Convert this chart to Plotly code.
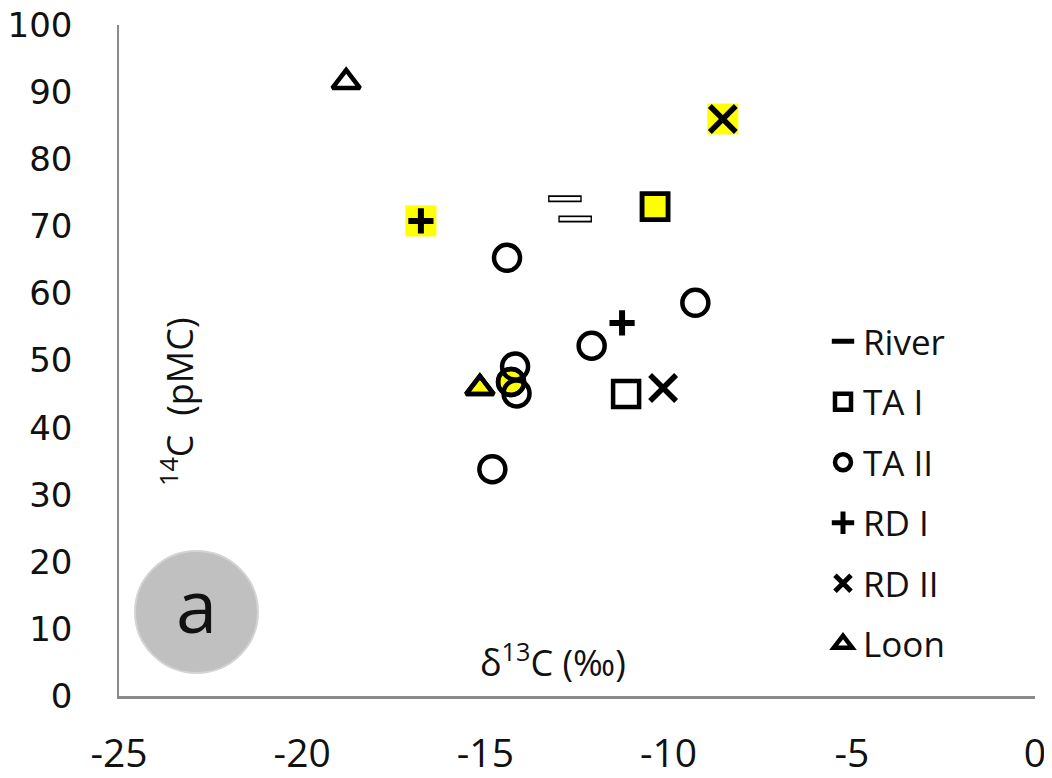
import plotly.graph_objects as go

# ---- data ----
river_x = [-12.83, -12.55]
river_y = [74.1, 71.1]

ta1_x = [-10.37, -11.16]
ta1_y = [72.9, 45.0]
ta1_hl = [True, False]

ta2_x = [-14.41, -9.27, -12.10, -14.19, -14.30, -14.15, -14.81]
ta2_y = [65.3, 58.6, 52.2, 49.1, 46.8, 45.1, 33.8]
ta2_hl = [False, False, False, False, True, False, False]

rd1_x = [-16.76, -11.27]
rd1_y = [70.8, 55.6]
rd1_hl = [True, False]

rd2_x = [-8.52, -10.15]
rd2_y = [86.0, 45.9]
rd2_hl = [True, False]

loon_x = [-18.8, -15.15]
loon_y = [91.5, 45.9]
loon_hl = [False, True]

x_ticks = [-25, -20, -15, -10, -5, 0]
y_ticks = [0, 10, 20, 30, 40, 50, 60, 70, 80, 90, 100]

YEL = "#ffff00"
BLK = "#000000"


def pick(xs, ys, flags):
    px = [x for x, f in zip(xs, flags) if f]
    py = [y for y, f in zip(ys, flags) if f]
    return px, py


fig = go.Figure()

# yellow highlights drawn first (underneath the black symbols)
for xs, ys, fl in [(rd1_x, rd1_y, rd1_hl), (rd2_x, rd2_y, rd2_hl)]:
    hx, hy = pick(xs, ys, fl)
    fig.add_trace(go.Scatter(x=hx, y=hy, mode="markers", showlegend=False, hoverinfo="skip",
                             marker=dict(symbol="square", size=31, color=YEL, line=dict(width=0))))
for xs, ys, fl, sym, sz in [(ta1_x, ta1_y, ta1_hl, "square", 26),
                            (ta2_x, ta2_y, ta2_hl, "circle", 26),
                            (loon_x, loon_y, loon_hl, "triangle-up", 24)]:
    hx, hy = pick(xs, ys, fl)
    fig.add_trace(go.Scatter(x=hx, y=hy, mode="markers", showlegend=False, hoverinfo="skip",
                             marker=dict(symbol=sym, size=sz, color=YEL, line=dict(width=4.5, color=BLK))))

# River: hollow dash
fig.add_trace(go.Scatter(x=river_x, y=river_y, mode="markers", name="River", legendgroup="river",
                         marker=dict(symbol="line-ew", size=24, color=BLK, line=dict(width=7, color=BLK))))
fig.add_trace(go.Scatter(x=river_x, y=river_y, mode="markers", showlegend=False, hoverinfo="skip",
                         legendgroup="river",
                         marker=dict(symbol="line-ew", size=22, color="white", line=dict(width=3.5, color="white"))))

# TA I
fig.add_trace(go.Scatter(x=ta1_x, y=ta1_y, mode="markers", name="TA I", legendgroup="ta1",
                         marker=dict(symbol="square-open", size=26, color=BLK, line=dict(width=4.5, color=BLK))))
# TA II
fig.add_trace(go.Scatter(x=ta2_x, y=ta2_y, mode="markers", name="TA II", legendgroup="ta2",
                         marker=dict(symbol="circle-open", size=26, color=BLK, line=dict(width=4.5, color=BLK))))
# RD I
fig.add_trace(go.Scatter(x=rd1_x, y=rd1_y, mode="markers", name="RD I", legendgroup="rd1",
                         marker=dict(symbol="cross-thin-open", size=18, color=BLK, line=dict(width=6, color=BLK))))
# RD II
fig.add_trace(go.Scatter(x=rd2_x, y=rd2_y, mode="markers", name="RD II", legendgroup="rd2",
                         marker=dict(symbol="x-thin-open", size=26, color=BLK, line=dict(width=5.5, color=BLK))))
# Loon
fig.add_trace(go.Scatter(x=loon_x, y=loon_y, mode="markers", name="Loon", legendgroup="loon",
                         marker=dict(symbol="triangle-up-open", size=24, color=BLK, line=dict(width=4.5, color=BLK))))

# page has an 8px body margin, so the figure is sized/offset to compensate
OFF = 8
W, H = 1044, 770
PL, PR, PT, PB = 119, 1035, 25, 696          # plot area in screen pixels
L, T = PL - OFF, PT - OFF
R, B = W - (PR - OFF), H - (PB - OFF)
pw, ph = PR - PL, PB - PT


def px2paper(x, y):
    return (x - PL) / pw, (PB - y) / ph


# grey "a" badge
cx0, cy0 = px2paper(135, 551)
cx1, cy1 = px2paper(258, 673)
fig.add_shape(type="circle", xref="paper", yref="paper", x0=cx0, y0=cy1, x1=cx1, y1=cy0,
              fillcolor="#c0c0c0", line=dict(color="#d4d4d4", width=2), layer="above")
ax_, ay_ = px2paper(196.5, 612)
fig.add_annotation(x=ax_, y=ay_, xref="paper", yref="paper", text="a", showarrow=False,
                   xanchor="center", yanchor="middle",
                   font=dict(family="Open Sans", size=74, color="#111111"), yshift=8)

# axis titles placed inside plot
tx, ty = px2paper(177, 402)
fig.add_annotation(x=tx, y=ty, xref="paper", yref="paper", text="<sup>14</sup>C  (pMC)", textangle=-90,
                   xanchor="center", yanchor="middle",
                   showarrow=False, font=dict(family="Open Sans", size=36, color="#111111"))
tx, ty = px2paper(553, 660)
fig.add_annotation(x=tx, y=ty, xref="paper", yref="paper", text="δ<sup>13</sup>C (‰)",
                   xanchor="center", yanchor="middle",
                   showarrow=False, font=dict(family="Open Sans", size=36, color="#111111"))

lx, ly = px2paper(823, 312)
fig.update_layout(
    width=W, height=H,
    margin=dict(l=L, r=R, t=T, b=B, pad=0, autoexpand=False),
    paper_bgcolor="white", plot_bgcolor="white",
    showlegend=True,
    legend=dict(x=lx, y=ly, xanchor="left", yanchor="top", bgcolor="rgba(0,0,0,0)",
                font=dict(family="Open Sans", size=35, color="#111111"),
                traceorder="grouped", tracegroupgap=12, itemwidth=30),
    xaxis=dict(range=[-25, 0], tickvals=x_ticks, ticktext=[str(v) for v in x_ticks],
               showgrid=False, zeroline=False, showline=True, linecolor="#8a8a8a", linewidth=2.5,
               ticks="", ticklabelstandoff=21, automargin=False, ticklabeloverflow="allow",
               tickfont=dict(family="Open Sans", size=39, color="#111111")),
    yaxis=dict(range=[0, 100], tickvals=y_ticks, ticktext=[str(v) for v in y_ticks],
               showgrid=False, zeroline=False, showline=True, linecolor="#8a8a8a", linewidth=1.5,
               ticks="", ticklabelstandoff=38, automargin=False, ticklabeloverflow="allow",
               tickfont=dict(family="DejaVu Sans", size=34, color="#111111")),
)

fig.write_html("out.html")
